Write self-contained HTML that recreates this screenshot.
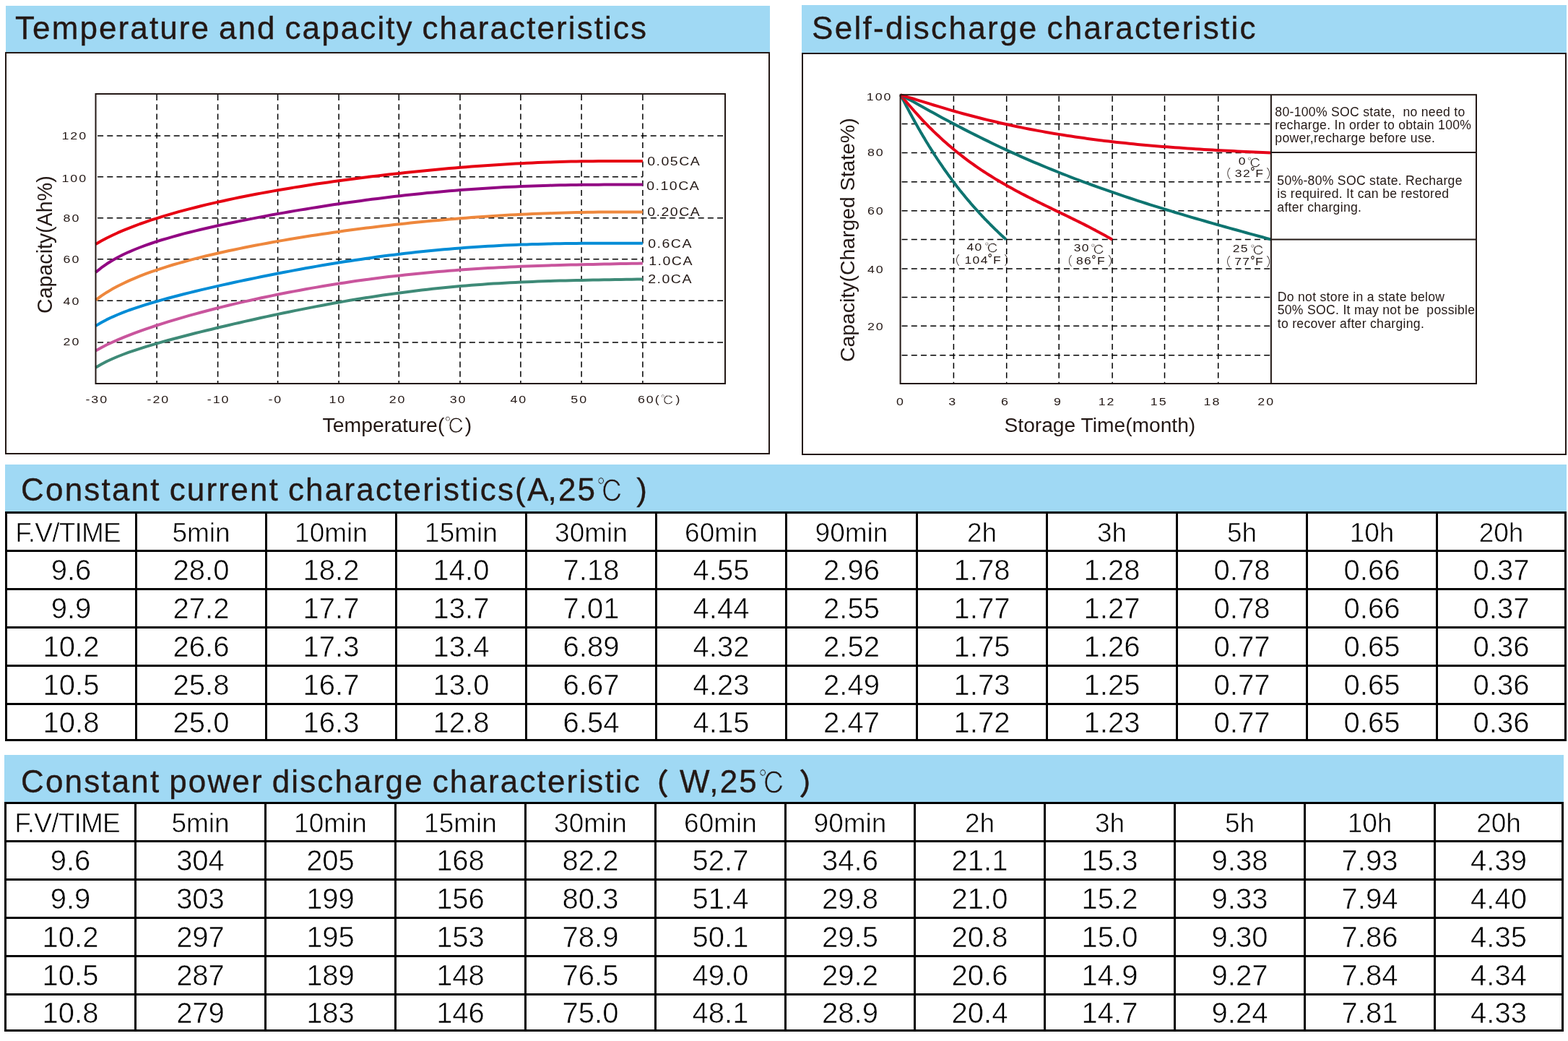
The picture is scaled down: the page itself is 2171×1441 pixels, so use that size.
<!DOCTYPE html>
<html lang="en">
<head>
<meta charset="utf-8">
<title>Battery characteristics</title>
<style>
html,body{margin:0;padding:0;background:#fff;}
body{width:2171px;height:1441px;position:relative;overflow:hidden;font-family:"Liberation Sans","Noto Sans CJK SC",sans-serif;color:#231815;}
.band{position:absolute;background:#a0d9f4;}
.band h2{position:absolute;margin:0;font-weight:normal;font-size:44px;letter-spacing:1.9px;word-spacing:-2.5px;line-height:44px;white-space:nowrap;color:#231815;-webkit-text-stroke:0.35px #231815;}
.cjk{font-family:"IPAGothic",sans-serif;font-weight:normal;font-size:41px;-webkit-text-stroke:0.9px #a0d9f4;letter-spacing:0;display:inline-block;transform:scaleX(0.92);transform-origin:0 0;position:relative;top:2px;}
.cjkp{font-family:"Noto Sans CJK SC",sans-serif;font-weight:500;font-size:41px;-webkit-text-stroke:0.4px #231815;position:relative;top:2.5px;}
.box{position:absolute;border:2px solid #231815;box-sizing:border-box;}
svg{position:absolute;left:0;top:0;overflow:visible;}
svg{font-family:"Liberation Sans","Noto Sans CJK SC",sans-serif;fill:#231815;}
table.data{position:absolute;border-collapse:collapse;table-layout:fixed;}
table.data td,table.data th{-webkit-text-stroke:0.6px #fff;border:3px solid #000;padding:0;text-align:center;vertical-align:middle;font-size:40px;line-height:40px;color:#000;white-space:nowrap;overflow:hidden;font-weight:normal;}
table.data th{font-size:37px;padding-top:4px;}
table.data th.fv{letter-spacing:-0.8px;padding-right:9px;}
</style>
</head>
<body>

<!-- Top-left panel -->
<div class="band" style="left:8px;top:8px;width:1058px;height:64px;">
  <h2 style="left:13px;top:9px;letter-spacing:2.1px;">Temperature and capacity characteristics</h2>
</div>
<div class="box" style="left:7px;top:72px;width:1059px;height:557px;"></div>

<!-- Top-right panel -->
<div class="band" style="left:1110px;top:7px;width:1059px;height:66px;">
  <h2 style="left:14px;top:10px;letter-spacing:2.3px;">Self-discharge characteristic</h2>
</div>
<div class="box" style="left:1110px;top:73px;width:1059px;height:557px;"></div>

<!-- Middle band -->
<div class="band" style="left:7px;top:643px;width:2162px;height:65px;">
  <h2 style="left:22px;top:13px;letter-spacing:2.2px;">Constant current characteristics(A<span style="margin-left:-3px">,</span>25<span class="cjk">℃</span><span style="margin-left:2px"> )</span></h2>
</div>

<!-- Bottom band -->
<div class="band" style="left:6px;top:1045px;width:2159px;height:66px;">
  <h2 style="left:23px;top:12px;letter-spacing:2.15px;">Constant power discharge characteristic<span class="cjkp" style="margin-left:-3px;margin-right:13px">（</span>W,25<span class="cjk">℃</span> <span class="cjkp" style="margin-left:3.5px">）</span></h2>
</div>

<svg width="2171" height="640" viewBox="0 0 2171 640">
<g><line x1="217.1" y1="130" x2="217.1" y2="531" stroke="#000" stroke-width="1.5" stroke-dasharray="8 5.2" fill="none" stroke-dashoffset="-1"/><line x1="301.6" y1="130" x2="301.6" y2="531" stroke="#000" stroke-width="1.5" stroke-dasharray="8 5.2" fill="none" stroke-dashoffset="-1"/><line x1="384.6" y1="130" x2="384.6" y2="531" stroke="#000" stroke-width="1.5" stroke-dasharray="8 5.2" fill="none" stroke-dashoffset="-1"/><line x1="469.1" y1="130" x2="469.1" y2="531" stroke="#000" stroke-width="1.5" stroke-dasharray="8 5.2" fill="none" stroke-dashoffset="-1"/><line x1="552.3" y1="130" x2="552.3" y2="531" stroke="#000" stroke-width="1.5" stroke-dasharray="8 5.2" fill="none" stroke-dashoffset="-1"/><line x1="637.0" y1="130" x2="637.0" y2="531" stroke="#000" stroke-width="1.5" stroke-dasharray="8 5.2" fill="none" stroke-dashoffset="-1"/><line x1="720.9" y1="130" x2="720.9" y2="531" stroke="#000" stroke-width="1.5" stroke-dasharray="8 5.2" fill="none" stroke-dashoffset="-1"/><line x1="805.1" y1="130" x2="805.1" y2="531" stroke="#000" stroke-width="1.5" stroke-dasharray="8 5.2" fill="none" stroke-dashoffset="-1"/><line x1="889.9" y1="130" x2="889.9" y2="531" stroke="#000" stroke-width="1.5" stroke-dasharray="8 5.2" fill="none" stroke-dashoffset="-1"/><line x1="132.5" y1="187.9" x2="1004" y2="187.9" stroke="#000" stroke-width="1.5" stroke-dasharray="8 5.2" fill="none" stroke-dashoffset="-2.6"/><line x1="132.5" y1="244.7" x2="889.9" y2="244.7" stroke="#000" stroke-width="1.5" stroke-dasharray="8 5.2" fill="none" stroke-dashoffset="-2.6"/><line x1="132.5" y1="301.7" x2="1004" y2="301.7" stroke="#000" stroke-width="1.5" stroke-dasharray="8 5.2" fill="none" stroke-dashoffset="-2.6"/><line x1="132.5" y1="358.7" x2="889.9" y2="358.7" stroke="#000" stroke-width="1.5" stroke-dasharray="8 5.2" fill="none" stroke-dashoffset="-2.6"/><line x1="132.5" y1="416.3" x2="1004" y2="416.3" stroke="#000" stroke-width="1.5" stroke-dasharray="8 5.2" fill="none" stroke-dashoffset="-2.6"/><line x1="132.5" y1="474.0" x2="1004" y2="474.0" stroke="#000" stroke-width="1.5" stroke-dasharray="8 5.2" fill="none" stroke-dashoffset="-2.6"/></g>
<path d="M132.5,338.1 L140.2,333.6 L147.8,329.5 L155.5,325.8 L163.1,322.2 L170.8,318.9 L178.4,315.8 L186.1,312.9 L193.7,310.0 L201.4,307.3 L209.0,304.7 L216.7,302.3 L224.3,299.9 L232.0,297.6 L239.6,295.4 L247.3,293.2 L254.9,291.1 L262.6,289.1 L270.2,287.2 L277.9,285.3 L285.5,283.4 L293.2,281.6 L300.8,279.9 L308.5,278.2 L316.1,276.5 L323.8,274.9 L331.4,273.3 L339.1,271.8 L346.7,270.3 L354.4,268.8 L362.0,267.4 L369.7,266.0 L377.3,264.6 L385.0,263.3 L392.6,262.0 L400.3,260.7 L407.9,259.4 L415.6,258.2 L423.2,257.0 L430.9,255.8 L438.5,254.6 L446.2,253.5 L453.8,252.4 L461.5,251.3 L469.1,250.2 L476.8,249.2 L484.4,248.2 L492.1,247.2 L499.7,246.2 L507.4,245.2 L515.0,244.3 L522.7,243.4 L530.3,242.5 L538.0,241.6 L545.6,240.7 L553.3,239.9 L560.9,239.0 L568.6,238.2 L576.2,237.4 L583.9,236.7 L591.5,235.9 L599.2,235.2 L606.8,234.5 L614.5,233.8 L622.1,233.1 L629.8,232.4 L637.4,231.8 L645.1,231.2 L652.7,230.6 L660.4,230.0 L668.0,229.5 L675.7,228.9 L683.3,228.4 L691.0,227.9 L698.6,227.5 L706.3,227.0 L713.9,226.6 L721.6,226.2 L729.2,225.8 L736.9,225.4 L744.5,225.1 L752.2,224.8 L759.8,224.5 L767.5,224.3 L775.1,224.0 L782.8,223.8 L790.4,223.6 L798.1,223.5 L805.7,223.3 L813.4,223.2 L821.0,223.2 L828.7,223.1 L836.3,223.1 L844.0,223.1 L851.6,223.1 L859.3,223.1 L866.9,223.1 L874.6,223.1 L882.2,223.1 L889.9,223.1" stroke="#e60012" stroke-width="4" fill="none" stroke-linejoin="round"/>
<path d="M132.5,376.9 L140.2,370.7 L147.8,365.3 L155.5,360.5 L163.1,356.2 L170.8,352.3 L178.4,348.8 L186.1,345.5 L193.7,342.5 L201.4,339.6 L209.0,337.0 L216.7,334.4 L224.3,332.0 L232.0,329.8 L239.6,327.6 L247.3,325.5 L254.9,323.4 L262.6,321.5 L270.2,319.6 L277.9,317.8 L285.5,316.0 L293.2,314.2 L300.8,312.5 L308.5,310.9 L316.1,309.2 L323.8,307.7 L331.4,306.1 L339.1,304.6 L346.7,303.1 L354.4,301.6 L362.0,300.1 L369.7,298.7 L377.3,297.3 L385.0,295.9 L392.6,294.6 L400.3,293.2 L407.9,291.9 L415.6,290.6 L423.2,289.4 L430.9,288.1 L438.5,286.9 L446.2,285.7 L453.8,284.5 L461.5,283.3 L469.1,282.2 L476.8,281.1 L484.4,280.0 L492.1,278.9 L499.7,277.9 L507.4,276.8 L515.0,275.8 L522.7,274.9 L530.3,273.9 L538.0,273.0 L545.6,272.1 L553.3,271.2 L560.9,270.3 L568.6,269.5 L576.2,268.7 L583.9,267.9 L591.5,267.1 L599.2,266.4 L606.8,265.7 L614.5,265.0 L622.1,264.3 L629.8,263.7 L637.4,263.1 L645.1,262.5 L652.7,261.9 L660.4,261.4 L668.0,260.9 L675.7,260.4 L683.3,259.9 L691.0,259.5 L698.6,259.1 L706.3,258.7 L713.9,258.4 L721.6,258.0 L729.2,257.7 L736.9,257.4 L744.5,257.2 L752.2,256.9 L759.8,256.7 L767.5,256.5 L775.1,256.3 L782.8,256.2 L790.4,256.0 L798.1,255.9 L805.7,255.8 L813.4,255.8 L821.0,255.7 L828.7,255.7 L836.3,255.6 L844.0,255.6 L851.6,255.6 L859.3,255.6 L866.9,255.6 L874.6,255.6 L882.2,255.6 L889.9,255.6" stroke="#920783" stroke-width="4" fill="none" stroke-linejoin="round"/>
<path d="M132.5,415.4 L140.2,409.7 L147.8,404.7 L155.5,400.1 L163.1,396.0 L170.8,392.2 L178.4,388.6 L186.1,385.3 L193.7,382.2 L201.4,379.2 L209.0,376.4 L216.7,373.8 L224.3,371.3 L232.0,368.9 L239.6,366.5 L247.3,364.3 L254.9,362.2 L262.6,360.1 L270.2,358.1 L277.9,356.2 L285.5,354.3 L293.2,352.5 L300.8,350.7 L308.5,349.0 L316.1,347.3 L323.8,345.7 L331.4,344.1 L339.1,342.5 L346.7,341.0 L354.4,339.5 L362.0,338.1 L369.7,336.7 L377.3,335.3 L385.0,333.9 L392.6,332.6 L400.3,331.3 L407.9,330.0 L415.6,328.8 L423.2,327.5 L430.9,326.3 L438.5,325.2 L446.2,324.0 L453.8,322.9 L461.5,321.8 L469.1,320.7 L476.8,319.6 L484.4,318.6 L492.1,317.6 L499.7,316.6 L507.4,315.6 L515.0,314.7 L522.7,313.7 L530.3,312.8 L538.0,311.9 L545.6,311.1 L553.3,310.2 L560.9,309.4 L568.6,308.6 L576.2,307.8 L583.9,307.0 L591.5,306.3 L599.2,305.6 L606.8,304.9 L614.5,304.2 L622.1,303.5 L629.8,302.9 L637.4,302.3 L645.1,301.7 L652.7,301.1 L660.4,300.5 L668.0,300.0 L675.7,299.5 L683.3,299.0 L691.0,298.5 L698.6,298.1 L706.3,297.6 L713.9,297.2 L721.6,296.8 L729.2,296.5 L736.9,296.1 L744.5,295.8 L752.2,295.5 L759.8,295.2 L767.5,295.0 L775.1,294.7 L782.8,294.5 L790.4,294.3 L798.1,294.1 L805.7,294.0 L813.4,293.8 L821.0,293.7 L828.7,293.6 L836.3,293.6 L844.0,293.5 L851.6,293.5 L859.3,293.5 L866.9,293.5 L874.6,293.5 L882.2,293.5 L889.9,293.5" stroke="#ee873c" stroke-width="4" fill="none" stroke-linejoin="round"/>
<path d="M132.5,451.1 L140.2,446.5 L147.8,442.4 L155.5,438.8 L163.1,435.5 L170.8,432.4 L178.4,429.5 L186.1,426.8 L193.7,424.3 L201.4,421.8 L209.0,419.5 L216.7,417.3 L224.3,415.1 L232.0,413.0 L239.6,411.0 L247.3,409.0 L254.9,407.0 L262.6,405.1 L270.2,403.3 L277.9,401.4 L285.5,399.6 L293.2,397.9 L300.8,396.1 L308.5,394.4 L316.1,392.7 L323.8,391.0 L331.4,389.4 L339.1,387.8 L346.7,386.2 L354.4,384.6 L362.0,383.0 L369.7,381.5 L377.3,380.0 L385.0,378.5 L392.6,377.0 L400.3,375.6 L407.9,374.1 L415.6,372.7 L423.2,371.3 L430.9,370.0 L438.5,368.6 L446.2,367.3 L453.8,366.0 L461.5,364.8 L469.1,363.5 L476.8,362.3 L484.4,361.2 L492.1,360.0 L499.7,358.9 L507.4,357.8 L515.0,356.7 L522.7,355.6 L530.3,354.6 L538.0,353.6 L545.6,352.7 L553.3,351.7 L560.9,350.8 L568.6,349.9 L576.2,349.1 L583.9,348.3 L591.5,347.5 L599.2,346.7 L606.8,346.0 L614.5,345.3 L622.1,344.7 L629.8,344.0 L637.4,343.4 L645.1,342.8 L652.7,342.3 L660.4,341.8 L668.0,341.3 L675.7,340.8 L683.3,340.4 L691.0,340.0 L698.6,339.6 L706.3,339.3 L713.9,338.9 L721.6,338.6 L729.2,338.4 L736.9,338.1 L744.5,337.9 L752.2,337.7 L759.8,337.5 L767.5,337.3 L775.1,337.2 L782.8,337.1 L790.4,337.0 L798.1,336.9 L805.7,336.8 L813.4,336.8 L821.0,336.8 L828.7,336.7 L836.3,336.7 L844.0,336.7 L851.6,336.7 L859.3,336.7 L866.9,336.7 L874.6,336.7 L882.2,336.7 L889.9,336.7" stroke="#008cd6" stroke-width="4" fill="none" stroke-linejoin="round"/>
<path d="M132.5,485.4 L140.2,481.2 L147.8,477.3 L155.5,473.7 L163.1,470.3 L170.8,467.1 L178.4,464.1 L186.1,461.2 L193.7,458.4 L201.4,455.7 L209.0,453.1 L216.7,450.5 L224.3,448.1 L232.0,445.7 L239.6,443.4 L247.3,441.1 L254.9,438.9 L262.6,436.7 L270.2,434.6 L277.9,432.5 L285.5,430.5 L293.2,428.5 L300.8,426.5 L308.5,424.6 L316.1,422.8 L323.8,420.9 L331.4,419.1 L339.1,417.4 L346.7,415.7 L354.4,414.0 L362.0,412.3 L369.7,410.7 L377.3,409.1 L385.0,407.5 L392.6,406.0 L400.3,404.5 L407.9,403.1 L415.6,401.7 L423.2,400.3 L430.9,398.9 L438.5,397.6 L446.2,396.3 L453.8,395.0 L461.5,393.8 L469.1,392.6 L476.8,391.4 L484.4,390.3 L492.1,389.1 L499.7,388.1 L507.4,387.0 L515.0,386.0 L522.7,385.0 L530.3,384.1 L538.0,383.1 L545.6,382.2 L553.3,381.4 L560.9,380.5 L568.6,379.7 L576.2,378.9 L583.9,378.2 L591.5,377.4 L599.2,376.7 L606.8,376.0 L614.5,375.4 L622.1,374.8 L629.8,374.2 L637.4,373.6 L645.1,373.1 L652.7,372.5 L660.4,372.0 L668.0,371.6 L675.7,371.1 L683.3,370.7 L691.0,370.3 L698.6,369.9 L706.3,369.5 L713.9,369.2 L721.6,368.8 L729.2,368.5 L736.9,368.2 L744.5,367.9 L752.2,367.7 L759.8,367.4 L767.5,367.2 L775.1,367.0 L782.8,366.8 L790.4,366.6 L798.1,366.4 L805.7,366.2 L813.4,366.0 L821.0,365.9 L828.7,365.7 L836.3,365.6 L844.0,365.4 L851.6,365.3 L859.3,365.1 L866.9,365.0 L874.6,364.8 L882.2,364.7 L889.9,364.5" stroke="#c9559d" stroke-width="4" fill="none" stroke-linejoin="round"/>
<path d="M132.5,508.8 L140.2,504.3 L147.8,500.3 L155.5,496.8 L163.1,493.5 L170.8,490.5 L178.4,487.7 L186.1,485.1 L193.7,482.6 L201.4,480.1 L209.0,477.8 L216.7,475.6 L224.3,473.4 L232.0,471.3 L239.6,469.2 L247.3,467.2 L254.9,465.2 L262.6,463.2 L270.2,461.3 L277.9,459.4 L285.5,457.5 L293.2,455.7 L300.8,453.8 L308.5,452.0 L316.1,450.2 L323.8,448.4 L331.4,446.7 L339.1,444.9 L346.7,443.2 L354.4,441.5 L362.0,439.8 L369.7,438.1 L377.3,436.5 L385.0,434.9 L392.6,433.3 L400.3,431.7 L407.9,430.1 L415.6,428.6 L423.2,427.1 L430.9,425.6 L438.5,424.1 L446.2,422.7 L453.8,421.2 L461.5,419.8 L469.1,418.5 L476.8,417.1 L484.4,415.8 L492.1,414.5 L499.7,413.3 L507.4,412.1 L515.0,410.9 L522.7,409.7 L530.3,408.6 L538.0,407.5 L545.6,406.4 L553.3,405.4 L560.9,404.4 L568.6,403.4 L576.2,402.4 L583.9,401.5 L591.5,400.7 L599.2,399.8 L606.8,399.0 L614.5,398.2 L622.1,397.5 L629.8,396.8 L637.4,396.1 L645.1,395.4 L652.7,394.8 L660.4,394.2 L668.0,393.7 L675.7,393.1 L683.3,392.6 L691.0,392.2 L698.6,391.7 L706.3,391.3 L713.9,390.9 L721.6,390.5 L729.2,390.2 L736.9,389.9 L744.5,389.6 L752.2,389.3 L759.8,389.0 L767.5,388.8 L775.1,388.6 L782.8,388.4 L790.4,388.2 L798.1,388.0 L805.7,387.9 L813.4,387.7 L821.0,387.6 L828.7,387.5 L836.3,387.3 L844.0,387.2 L851.6,387.1 L859.3,387.0 L866.9,386.8 L874.6,386.7 L882.2,386.6 L889.9,386.4" stroke="#3e8a77" stroke-width="4" fill="none" stroke-linejoin="round"/>
<rect x="132.5" y="130" width="871.5" height="401" fill="none" stroke="#231815" stroke-width="2"/>
<text transform="translate(896.2,229.3) scale(1.15,1)" font-size="17" letter-spacing="1.3">0.05CA</text>
<text transform="translate(895.2,263.3) scale(1.15,1)" font-size="17" letter-spacing="1.3">0.10CA</text>
<text transform="translate(896.2,298.8) scale(1.15,1)" font-size="17" letter-spacing="1.3">0.20CA</text>
<text transform="translate(897.2,342.8) scale(1.15,1)" font-size="17" letter-spacing="1.3">0.6CA</text>
<text transform="translate(898.2,367.4) scale(1.15,1)" font-size="17" letter-spacing="1.3">1.0CA</text>
<text transform="translate(897.2,392.4) scale(1.15,1)" font-size="17" letter-spacing="1.3">2.0CA</text>
<text transform="translate(85.5,193) scale(1.15,1)" font-size="15.5" letter-spacing="1.7">120</text>
<text transform="translate(85.5,251.8) scale(1.15,1)" font-size="15.5" letter-spacing="1.7">100</text>
<text transform="translate(87.6,307.0) scale(1.15,1)" font-size="15.5" letter-spacing="1.7">80</text>
<text transform="translate(87.6,363.9) scale(1.15,1)" font-size="15.5" letter-spacing="1.7">60</text>
<text transform="translate(87.6,421.7) scale(1.15,1)" font-size="15.5" letter-spacing="1.7">40</text>
<text transform="translate(87.6,478.4) scale(1.15,1)" font-size="15.5" letter-spacing="1.7">20</text>
<text transform="translate(134.2,558.2) scale(1.15,1)" font-size="15.5" letter-spacing="1.7" text-anchor="middle">-30</text>
<text transform="translate(219.4,558.2) scale(1.15,1)" font-size="15.5" letter-spacing="1.7" text-anchor="middle">-20</text>
<text transform="translate(302.6,558.2) scale(1.15,1)" font-size="15.5" letter-spacing="1.7" text-anchor="middle">-10</text>
<text transform="translate(381.3,558.2) scale(1.15,1)" font-size="15.5" letter-spacing="1.7" text-anchor="middle">-0</text>
<text transform="translate(467.3,558.2) scale(1.15,1)" font-size="15.5" letter-spacing="1.7" text-anchor="middle">10</text>
<text transform="translate(550.6,558.2) scale(1.15,1)" font-size="15.5" letter-spacing="1.7" text-anchor="middle">20</text>
<text transform="translate(634.5,558.2) scale(1.15,1)" font-size="15.5" letter-spacing="1.7" text-anchor="middle">30</text>
<text transform="translate(718.3,558.2) scale(1.15,1)" font-size="15.5" letter-spacing="1.7" text-anchor="middle">40</text>
<text transform="translate(802.2,558.2) scale(1.15,1)" font-size="15.5" letter-spacing="1.7" text-anchor="middle">50</text>
<text transform="translate(883,558.2) scale(1.15,1)" font-size="15.5" letter-spacing="1.7">60(<tspan font-family="IPAGothic" font-size="16.5" stroke="#fff" stroke-width="0.4" dy="1.3">℃</tspan><tspan dy="-1.3">)</tspan></text>
<text x="446.5" y="597.7" font-size="28.4">Temperature(<tspan font-family="IPAGothic" stroke="#fff" stroke-width="0.6" dy="2.5">℃</tspan><tspan dy="-2.5">)</tspan></text>
<text transform="translate(72.3,434) rotate(-90)" font-size="28.6">Capacity(Ah%)</text>
<g><line x1="1320.4" y1="131.2" x2="1320.4" y2="531" stroke="#000" stroke-width="1.5" stroke-dasharray="8 5.2" fill="none" stroke-dashoffset="-1.5"/><line x1="1393.7" y1="131.2" x2="1393.7" y2="531" stroke="#000" stroke-width="1.5" stroke-dasharray="8 5.2" fill="none" stroke-dashoffset="-1.5"/><line x1="1466.2" y1="131.2" x2="1466.2" y2="531" stroke="#000" stroke-width="1.5" stroke-dasharray="8 5.2" fill="none" stroke-dashoffset="-1.5"/><line x1="1540.1" y1="131.2" x2="1540.1" y2="531" stroke="#000" stroke-width="1.5" stroke-dasharray="8 5.2" fill="none" stroke-dashoffset="-1.5"/><line x1="1612.5" y1="131.2" x2="1612.5" y2="531" stroke="#000" stroke-width="1.5" stroke-dasharray="8 5.2" fill="none" stroke-dashoffset="-1.5"/><line x1="1686.7" y1="131.2" x2="1686.7" y2="531" stroke="#000" stroke-width="1.5" stroke-dasharray="8 5.2" fill="none" stroke-dashoffset="-1.5"/><line x1="1246.6" y1="171.4" x2="1759.9" y2="171.4" stroke="#000" stroke-width="1.5" stroke-dasharray="8 5.2" fill="none" stroke-dashoffset="-2"/><line x1="1246.6" y1="211.5" x2="1759.9" y2="211.5" stroke="#000" stroke-width="1.5" stroke-dasharray="8 5.2" fill="none" stroke-dashoffset="-2"/><line x1="1246.6" y1="251.7" x2="1759.9" y2="251.7" stroke="#000" stroke-width="1.5" stroke-dasharray="8 5.2" fill="none" stroke-dashoffset="-2"/><line x1="1246.6" y1="291.7" x2="1759.9" y2="291.7" stroke="#000" stroke-width="1.5" stroke-dasharray="8 5.2" fill="none" stroke-dashoffset="-2"/><line x1="1246.6" y1="331.6" x2="1759.9" y2="331.6" stroke="#000" stroke-width="1.5" stroke-dasharray="8 5.2" fill="none" stroke-dashoffset="-2"/><line x1="1246.6" y1="372.0" x2="1759.9" y2="372.0" stroke="#000" stroke-width="1.5" stroke-dasharray="8 5.2" fill="none" stroke-dashoffset="-2"/><line x1="1246.6" y1="411.6" x2="1759.9" y2="411.6" stroke="#000" stroke-width="1.5" stroke-dasharray="8 5.2" fill="none" stroke-dashoffset="-2"/><line x1="1246.6" y1="451.3" x2="1759.9" y2="451.3" stroke="#000" stroke-width="1.5" stroke-dasharray="8 5.2" fill="none" stroke-dashoffset="-2"/><line x1="1246.6" y1="491.7" x2="1759.9" y2="491.7" stroke="#000" stroke-width="1.5" stroke-dasharray="8 5.2" fill="none" stroke-dashoffset="-2"/></g>
<path d="M1246.8,131.4 L1248.4,134.5 L1250.1,137.6 L1251.7,140.7 L1253.4,143.9 L1255.0,147.0 L1256.7,150.1 L1258.3,153.2 L1259.9,156.2 L1261.6,159.3 L1263.2,162.3 L1264.9,165.3 L1266.5,168.3 L1268.2,171.2 L1269.8,174.1 L1271.4,177.0 L1273.1,179.9 L1274.7,182.8 L1276.4,185.6 L1278.0,188.4 L1279.7,191.1 L1281.3,193.9 L1282.9,196.6 L1284.6,199.3 L1286.2,202.0 L1287.9,204.6 L1289.5,207.2 L1291.2,209.8 L1292.8,212.4 L1294.4,215.0 L1296.1,217.5 L1297.7,220.0 L1299.4,222.5 L1301.0,224.9 L1302.7,227.3 L1304.3,229.7 L1305.9,232.1 L1307.6,234.5 L1309.2,236.8 L1310.9,239.1 L1312.5,241.4 L1314.2,243.7 L1315.8,245.9 L1317.4,248.2 L1319.1,250.4 L1320.7,252.6 L1322.4,254.7 L1324.0,256.9 L1325.6,259.0 L1327.3,261.1 L1328.9,263.2 L1330.6,265.2 L1332.2,267.3 L1333.9,269.3 L1335.5,271.3 L1337.1,273.3 L1338.8,275.3 L1340.4,277.2 L1342.1,279.1 L1343.7,281.1 L1345.4,283.0 L1347.0,284.8 L1348.6,286.7 L1350.3,288.5 L1351.9,290.4 L1353.6,292.2 L1355.2,294.0 L1356.9,295.8 L1358.5,297.5 L1360.1,299.3 L1361.8,301.0 L1363.4,302.8 L1365.1,304.5 L1366.7,306.2 L1368.4,307.8 L1370.0,309.5 L1371.6,311.2 L1373.3,312.8 L1374.9,314.4 L1376.6,316.1 L1378.2,317.7 L1379.9,319.2 L1381.5,320.8 L1383.1,322.4 L1384.8,324.0 L1386.4,325.5 L1388.1,327.0 L1389.7,328.6 L1391.4,330.1 L1393.0,331.6" stroke="#0e7470" stroke-width="4" fill="none" stroke-linejoin="round"/>
<path d="M1246.8,131.3 L1250.1,135.3 L1253.4,139.3 L1256.7,143.2 L1260.0,147.0 L1263.3,150.8 L1266.6,154.5 L1269.9,158.2 L1273.2,161.8 L1276.4,165.3 L1279.7,168.8 L1283.0,172.2 L1286.3,175.6 L1289.6,178.8 L1292.9,182.1 L1296.2,185.2 L1299.5,188.3 L1302.8,191.4 L1306.1,194.4 L1309.4,197.3 L1312.7,200.2 L1316.0,203.0 L1319.3,205.8 L1322.6,208.5 L1325.9,211.2 L1329.2,213.8 L1332.5,216.4 L1335.7,218.9 L1339.0,221.4 L1342.3,223.8 L1345.6,226.2 L1348.9,228.5 L1352.2,230.8 L1355.5,233.1 L1358.8,235.3 L1362.1,237.5 L1365.4,239.6 L1368.7,241.7 L1372.0,243.8 L1375.3,245.9 L1378.6,247.9 L1381.9,249.8 L1385.2,251.8 L1388.5,253.7 L1391.8,255.6 L1395.0,257.5 L1398.3,259.3 L1401.6,261.1 L1404.9,262.9 L1408.2,264.7 L1411.5,266.4 L1414.8,268.2 L1418.1,269.9 L1421.4,271.6 L1424.7,273.3 L1428.0,274.9 L1431.3,276.6 L1434.6,278.2 L1437.9,279.9 L1441.2,281.5 L1444.5,283.1 L1447.8,284.7 L1451.1,286.3 L1454.3,287.9 L1457.6,289.5 L1460.9,291.1 L1464.2,292.7 L1467.5,294.3 L1470.8,295.9 L1474.1,297.4 L1477.4,299.0 L1480.7,300.6 L1484.0,302.2 L1487.3,303.9 L1490.6,305.5 L1493.9,307.1 L1497.2,308.8 L1500.5,310.4 L1503.8,312.1 L1507.1,313.8 L1510.4,315.5 L1513.6,317.2 L1516.9,318.9 L1520.2,320.7 L1523.5,322.5 L1526.8,324.3 L1530.1,326.1 L1533.4,327.9 L1536.7,329.8 L1540.0,331.7" stroke="#e50019" stroke-width="4" fill="none" stroke-linejoin="round"/>
<path d="M1246.8,131.3 L1252.6,134.3 L1258.3,137.4 L1264.1,140.6 L1269.8,143.8 L1275.6,147.0 L1281.4,150.2 L1287.1,153.4 L1292.9,156.6 L1298.6,159.7 L1304.4,162.9 L1310.2,166.0 L1315.9,169.1 L1321.7,172.1 L1327.4,175.1 L1333.2,178.1 L1339.0,181.1 L1344.7,184.0 L1350.5,186.9 L1356.3,189.8 L1362.0,192.6 L1367.8,195.4 L1373.5,198.2 L1379.3,201.0 L1385.1,203.7 L1390.8,206.4 L1396.6,209.0 L1402.3,211.6 L1408.1,214.2 L1413.9,216.8 L1419.6,219.3 L1425.4,221.8 L1431.1,224.3 L1436.9,226.7 L1442.7,229.1 L1448.4,231.5 L1454.2,233.9 L1459.9,236.2 L1465.7,238.5 L1471.5,240.8 L1477.2,243.0 L1483.0,245.3 L1488.7,247.5 L1494.5,249.6 L1500.3,251.8 L1506.0,253.9 L1511.8,256.0 L1517.6,258.1 L1523.3,260.2 L1529.1,262.2 L1534.8,264.2 L1540.6,266.2 L1546.4,268.2 L1552.1,270.1 L1557.9,272.1 L1563.6,274.0 L1569.4,275.9 L1575.2,277.8 L1580.9,279.6 L1586.7,281.5 L1592.4,283.3 L1598.2,285.1 L1604.0,286.9 L1609.7,288.7 L1615.5,290.5 L1621.2,292.2 L1627.0,294.0 L1632.8,295.7 L1638.5,297.4 L1644.3,299.1 L1650.0,300.8 L1655.8,302.5 L1661.6,304.2 L1667.3,305.8 L1673.1,307.5 L1678.9,309.1 L1684.6,310.7 L1690.4,312.4 L1696.1,314.0 L1701.9,315.6 L1707.7,317.2 L1713.4,318.8 L1719.2,320.4 L1724.9,322.0 L1730.7,323.6 L1736.5,325.1 L1742.2,326.7 L1748.0,328.3 L1753.7,329.9 L1759.5,331.4" stroke="#0e7470" stroke-width="4" fill="none" stroke-linejoin="round"/>
<path d="M1246.8,131.4 L1252.6,133.0 L1258.3,134.8 L1264.1,136.5 L1269.8,138.3 L1275.6,140.1 L1281.4,141.9 L1287.1,143.7 L1292.9,145.5 L1298.6,147.2 L1304.4,148.9 L1310.2,150.6 L1315.9,152.3 L1321.7,154.0 L1327.4,155.6 L1333.2,157.2 L1339.0,158.7 L1344.7,160.3 L1350.5,161.8 L1356.3,163.2 L1362.0,164.7 L1367.8,166.1 L1373.5,167.5 L1379.3,168.8 L1385.1,170.2 L1390.8,171.5 L1396.6,172.8 L1402.3,174.0 L1408.1,175.2 L1413.9,176.4 L1419.6,177.6 L1425.4,178.7 L1431.1,179.8 L1436.9,180.9 L1442.7,181.9 L1448.4,183.0 L1454.2,184.0 L1459.9,184.9 L1465.7,185.9 L1471.5,186.8 L1477.2,187.7 L1483.0,188.6 L1488.7,189.5 L1494.5,190.3 L1500.3,191.1 L1506.0,191.9 L1511.8,192.7 L1517.6,193.4 L1523.3,194.2 L1529.1,194.9 L1534.8,195.6 L1540.6,196.2 L1546.4,196.9 L1552.1,197.5 L1557.9,198.1 L1563.6,198.7 L1569.4,199.3 L1575.2,199.9 L1580.9,200.4 L1586.7,200.9 L1592.4,201.4 L1598.2,201.9 L1604.0,202.4 L1609.7,202.9 L1615.5,203.3 L1621.2,203.8 L1627.0,204.2 L1632.8,204.6 L1638.5,205.0 L1644.3,205.4 L1650.0,205.8 L1655.8,206.2 L1661.6,206.5 L1667.3,206.9 L1673.1,207.2 L1678.9,207.6 L1684.6,207.9 L1690.4,208.2 L1696.1,208.5 L1701.9,208.8 L1707.7,209.1 L1713.4,209.4 L1719.2,209.7 L1724.9,209.9 L1730.7,210.2 L1736.5,210.5 L1742.2,210.7 L1748.0,211.0 L1753.7,211.3 L1759.5,211.5" stroke="#e50019" stroke-width="4" fill="none" stroke-linejoin="round"/>
<rect x="1246.6" y="131.2" width="797.4000000000001" height="399.8" fill="none" stroke="#231815" stroke-width="2"/>
<line x1="1759.9" y1="131.2" x2="1759.9" y2="531" stroke="#231815" stroke-width="2"/>
<line x1="1759.9" y1="210.9" x2="2044" y2="210.9" stroke="#231815" stroke-width="2"/>
<line x1="1759.9" y1="331.5" x2="2044" y2="331.5" stroke="#231815" stroke-width="2"/>
<text transform="translate(1199.8,139.1) scale(1.15,1)" font-size="15.5" letter-spacing="1.7">100</text>
<text transform="translate(1201,216.4) scale(1.15,1)" font-size="15.5" letter-spacing="1.7">80</text>
<text transform="translate(1201,297.2) scale(1.15,1)" font-size="15.5" letter-spacing="1.7">60</text>
<text transform="translate(1201,378.0) scale(1.15,1)" font-size="15.5" letter-spacing="1.7">40</text>
<text transform="translate(1201,456.6) scale(1.15,1)" font-size="15.5" letter-spacing="1.7">20</text>
<text transform="translate(1246.9,561) scale(1.15,1)" font-size="15.5" letter-spacing="1.7" text-anchor="middle">0</text>
<text transform="translate(1319.3,561) scale(1.15,1)" font-size="15.5" letter-spacing="1.7" text-anchor="middle">3</text>
<text transform="translate(1392,561) scale(1.15,1)" font-size="15.5" letter-spacing="1.7" text-anchor="middle">6</text>
<text transform="translate(1465,561) scale(1.15,1)" font-size="15.5" letter-spacing="1.7" text-anchor="middle">9</text>
<text transform="translate(1532.5,561) scale(1.15,1)" font-size="15.5" letter-spacing="1.7" text-anchor="middle">12</text>
<text transform="translate(1604.7,561) scale(1.15,1)" font-size="15.5" letter-spacing="1.7" text-anchor="middle">15</text>
<text transform="translate(1678.4,561) scale(1.15,1)" font-size="15.5" letter-spacing="1.7" text-anchor="middle">18</text>
<text transform="translate(1753.2,561) scale(1.15,1)" font-size="15.5" letter-spacing="1.7" text-anchor="middle">20</text>
<text transform="translate(1714.8,228.1) scale(1.13,1)" font-size="15.5" letter-spacing="1.2">0</text>
<text transform="translate(1726.8,231.7) scale(1.13,1)" font-family="IPAGothic" font-size="17.5" stroke="#fff" stroke-width="0.35">℃</text>
<text x="1687.3" y="247.3" font-family="Noto Sans CJK SC" font-weight="300" font-size="17">（</text>
<text transform="translate(1709.8,244.9) scale(1.13,1)" font-size="15.5" letter-spacing="1.2">32</text>
<text x="1731.4" y="241.9" font-size="14.5" font-weight="bold">°</text>
<text transform="translate(1738.3,244.9) scale(1.13,1)" font-size="15.5">F</text>
<text x="1753.2" y="247.3" font-family="Noto Sans CJK SC" font-weight="300" font-size="17">）</text>
<text transform="translate(1338.4,346.8) scale(1.13,1)" font-size="15.5" letter-spacing="1.2">40</text>
<text transform="translate(1363.0,350.4) scale(1.13,1)" font-family="IPAGothic" font-size="17.5" stroke="#fff" stroke-width="0.35">℃</text>
<text x="1312.1" y="367.0" font-family="Noto Sans CJK SC" font-weight="300" font-size="17">（</text>
<text transform="translate(1335.5,364.6) scale(1.13,1)" font-size="15.5" letter-spacing="1.2">104</text>
<text x="1367.7" y="361.6" font-size="14.5" font-weight="bold">°</text>
<text transform="translate(1375.1,364.6) scale(1.13,1)" font-size="15.5">F</text>
<text x="1390.3" y="367.0" font-family="Noto Sans CJK SC" font-weight="300" font-size="17">）</text>
<text transform="translate(1486.7,348.0) scale(1.13,1)" font-size="15.5" letter-spacing="1.2">30</text>
<text transform="translate(1509.9,351.6) scale(1.13,1)" font-family="IPAGothic" font-size="17.5" stroke="#fff" stroke-width="0.35">℃</text>
<text x="1467.7" y="368.1" font-family="Noto Sans CJK SC" font-weight="300" font-size="17">（</text>
<text transform="translate(1490.0,365.7) scale(1.13,1)" font-size="15.5" letter-spacing="1.2">86</text>
<text x="1511.5" y="363.7" font-size="14.5" font-weight="bold">°</text>
<text transform="translate(1519.1,365.7) scale(1.13,1)" font-size="15.5">F</text>
<text x="1534.1" y="368.1" font-family="Noto Sans CJK SC" font-weight="300" font-size="17">）</text>
<text transform="translate(1706.7,348.9) scale(1.13,1)" font-size="15.5" letter-spacing="1.2">25</text>
<text transform="translate(1731.0,352.5) scale(1.13,1)" font-family="IPAGothic" font-size="17.5" stroke="#fff" stroke-width="0.35">℃</text>
<text x="1686.9" y="369.1" font-family="Noto Sans CJK SC" font-weight="300" font-size="17">（</text>
<text transform="translate(1709.2,366.7) scale(1.13,1)" font-size="15.5" letter-spacing="1.2">77</text>
<text x="1731.5" y="364.7" font-size="14.5" font-weight="bold">°</text>
<text transform="translate(1738.0,366.7) scale(1.13,1)" font-size="15.5">F</text>
<text x="1753.3" y="369.1" font-family="Noto Sans CJK SC" font-weight="300" font-size="17">）</text>
<text x="1765.3" y="160.9" font-size="17.6" letter-spacing="0.3" xml:space="preserve">80-100% SOC state,  no need to</text>
<text x="1765.3" y="179.4" font-size="17.6" letter-spacing="0.3" xml:space="preserve">recharge. In order to obtain 100%</text>
<text x="1765.3" y="197.4" font-size="17.6" letter-spacing="0.3" xml:space="preserve">power,recharge before use.</text>
<text x="1768.3" y="255.8" font-size="17.6" letter-spacing="0.3" xml:space="preserve">50%-80% SOC state. Recharge</text>
<text x="1768.3" y="274.4" font-size="17.6" letter-spacing="0.3" xml:space="preserve">is required. It can be restored</text>
<text x="1768.3" y="292.7" font-size="17.6" letter-spacing="0.3" xml:space="preserve">after charging.</text>
<text x="1768.7" y="417.0" font-size="17.6" letter-spacing="0.3" xml:space="preserve">Do not store in a state below</text>
<text x="1768.7" y="435.4" font-size="17.6" letter-spacing="0.3" xml:space="preserve">50% SOC. It may not be  possible</text>
<text x="1768.7" y="453.8" font-size="17.6" letter-spacing="0.3" xml:space="preserve">to recover after charging.</text>
<text x="1390.5" y="598" font-size="28.2">Storage Time(month)</text>
<text transform="translate(1183.3,501) rotate(-90)" font-size="28.4">Capacity(Charged State%)</text>
</svg>

<table class="data" style="left:7.0px;top:708.0px;">
<colgroup><col style="width:180.0px"><col style="width:180.0px"><col style="width:180.0px"><col style="width:180.0px"><col style="width:180.0px"><col style="width:180.0px"><col style="width:181.0px"><col style="width:180.0px"><col style="width:180.0px"><col style="width:180.0px"><col style="width:180.0px"><col style="width:178.0px"></colgroup>
<tr class="hd" style="height:53.0px"><th class="fv">F.V/TIME</th><th>5min</th><th>10min</th><th>15min</th><th>30min</th><th>60min</th><th>90min</th><th>2h</th><th>3h</th><th>5h</th><th>10h</th><th>20h</th></tr>
<tr style="height:53.0px"><td>9.6</td><td>28.0</td><td>18.2</td><td>14.0</td><td>7.18</td><td>4.55</td><td>2.96</td><td>1.78</td><td>1.28</td><td>0.78</td><td>0.66</td><td>0.37</td></tr>
<tr style="height:53.0px"><td>9.9</td><td>27.2</td><td>17.7</td><td>13.7</td><td>7.01</td><td>4.44</td><td>2.55</td><td>1.77</td><td>1.27</td><td>0.78</td><td>0.66</td><td>0.37</td></tr>
<tr style="height:53.0px"><td>10.2</td><td>26.6</td><td>17.3</td><td>13.4</td><td>6.89</td><td>4.32</td><td>2.52</td><td>1.75</td><td>1.26</td><td>0.77</td><td>0.65</td><td>0.36</td></tr>
<tr style="height:53.0px"><td>10.5</td><td>25.8</td><td>16.7</td><td>13.0</td><td>6.67</td><td>4.23</td><td>2.49</td><td>1.73</td><td>1.25</td><td>0.77</td><td>0.65</td><td>0.36</td></tr>
<tr style="height:50.0px"><td>10.8</td><td>25.0</td><td>16.3</td><td>12.8</td><td>6.54</td><td>4.15</td><td>2.47</td><td>1.72</td><td>1.23</td><td>0.77</td><td>0.65</td><td>0.36</td></tr>
</table>
<table class="data" style="left:6.0px;top:1110.0px;">
<colgroup><col style="width:180.0px"><col style="width:180.0px"><col style="width:180.0px"><col style="width:180.0px"><col style="width:180.0px"><col style="width:180.0px"><col style="width:179.0px"><col style="width:180.0px"><col style="width:180.0px"><col style="width:180.0px"><col style="width:180.0px"><col style="width:177.0px"></colgroup>
<tr class="hd" style="height:53.0px"><th class="fv">F.V/TIME</th><th>5min</th><th>10min</th><th>15min</th><th>30min</th><th>60min</th><th>90min</th><th>2h</th><th>3h</th><th>5h</th><th>10h</th><th>20h</th></tr>
<tr style="height:53.0px"><td>9.6</td><td>304</td><td>205</td><td>168</td><td>82.2</td><td>52.7</td><td>34.6</td><td>21.1</td><td>15.3</td><td>9.38</td><td>7.93</td><td>4.39</td></tr>
<tr style="height:53.0px"><td>9.9</td><td>303</td><td>199</td><td>156</td><td>80.3</td><td>51.4</td><td>29.8</td><td>21.0</td><td>15.2</td><td>9.33</td><td>7.94</td><td>4.40</td></tr>
<tr style="height:53.0px"><td>10.2</td><td>297</td><td>195</td><td>153</td><td>78.9</td><td>50.1</td><td>29.5</td><td>20.8</td><td>15.0</td><td>9.30</td><td>7.86</td><td>4.35</td></tr>
<tr style="height:53.0px"><td>10.5</td><td>287</td><td>189</td><td>148</td><td>76.5</td><td>49.0</td><td>29.2</td><td>20.6</td><td>14.9</td><td>9.27</td><td>7.84</td><td>4.34</td></tr>
<tr style="height:50.0px"><td>10.8</td><td>279</td><td>183</td><td>146</td><td>75.0</td><td>48.1</td><td>28.9</td><td>20.4</td><td>14.7</td><td>9.24</td><td>7.81</td><td>4.33</td></tr>
</table>

</body>
</html>
